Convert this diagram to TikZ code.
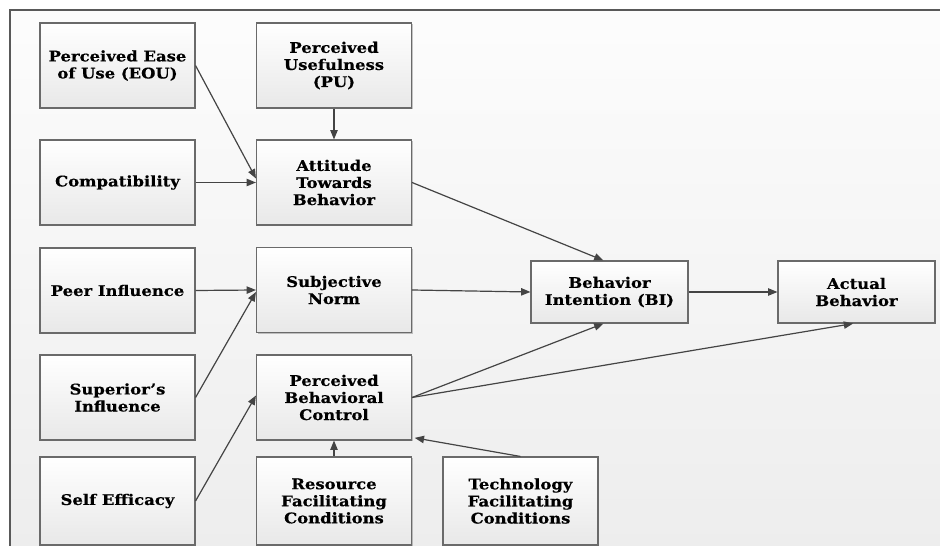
\documentclass[tikz,border=0pt]{standalone}
\usepackage{fontspec}
\newfontfamily\lblfont{DejaVu Serif}[FakeStretch=1.12, BoldFeatures={FakeBold=0.4}]
\usetikzlibrary{arrows.meta,shadows}
\definecolor{edgecol}{HTML}{444444}
\definecolor{boxline}{HTML}{6A6A6A}
\begin{document}
\begin{tikzpicture}[x=0.75pt,y=-0.75pt,
  box/.style={draw=boxline, line width=0.8pt, top color=white, bottom color=black!9,
    minimum width=116.25pt, minimum height=63.75pt, align=center, inner sep=2pt,
    font=\lblfont\bfseries\fontsize{11}{12.8}\selectfont,
    drop shadow={shadow xshift=1.1pt, shadow yshift=-1.1pt, fill=black, opacity=0.22}},
  tall/.style={minimum height=66pt},
  conn/.style={draw=edgecol, line width=0.9pt, -{Triangle[length=7pt,width=5.5pt]}}]
\useasboundingbox (0,0) rectangle (940,546);
% background and frame
\fill[white] (0,0) rectangle (940,546);
\shade[top color=black!1, bottom color=black!7] (10,10) rectangle (940,546);
\draw[draw=black!65, line width=1pt] (10,546) -- (10,10) -- (940,10);
% nodes
\node[box] (eou) at (117.5,65.5) {Perceived Ease\\of Use (EOU)};
\node[box] (pu) at (334,65.5) {Perceived\\Usefulness\\(PU)};
\node[box] (comp) at (117.5,182.5) {Compatibility};
\node[box] (att) at (334,182.5) {Attitude\\Towards\\Behavior};
\node[box] (peer) at (117.5,290.5) {Peer Influence};
\node[box] (sn) at (334,290) {Subjective\\Norm};
\node[box] (sup) at (117.5,397.5) {Superior’s\\Influence};
\node[box] (pbc) at (334,397.5) {Perceived\\Behavioral\\Control};
\node[box,tall] (self) at (117.5,501) {Self Efficacy};
\node[box,tall] (res) at (334,501) {Resource\\Facilitating\\Conditions};
\node[box,tall] (tech) at (520.5,501) {Technology\\Facilitating\\Conditions};
\node[box, minimum width=117.75pt, minimum height=46.5pt] (bi) at (609.5,292) {Behavior\\Intention (BI)};
\node[box, minimum width=117.75pt, minimum height=46.5pt] (act) at (856.5,292) {Actual\\Behavior};
% connectors
\draw[conn] (eou.east) -- ([yshift=3pt]att.west);
\draw[conn] (pu.south) -- (att.north);
\draw[conn] (comp.east) -- (att.west);
\draw[conn] (att.east) -- ([xshift=-4.5pt]bi.north);
\draw[conn] (peer.east) -- (sn.west);
\draw[conn] (sup.east) -- ([yshift=-1.5pt]sn.west);
\draw[conn] (sn.east) -- (bi.west);
\draw[conn] (bi.east) -- (act.west);
\draw[conn] (self.east) -- ([yshift=1.5pt]pbc.west);
\draw[conn] (pbc.east) -- ([xshift=-4.5pt]bi.south);
\draw[conn] (pbc.east) -- ([xshift=-2.5pt]act.south);
\draw[conn] (res.north) -- (pbc.south);
\draw[conn] (tech.north) -- ([xshift=2pt,yshift=2pt]pbc.south east);
\end{tikzpicture}
\end{document}
